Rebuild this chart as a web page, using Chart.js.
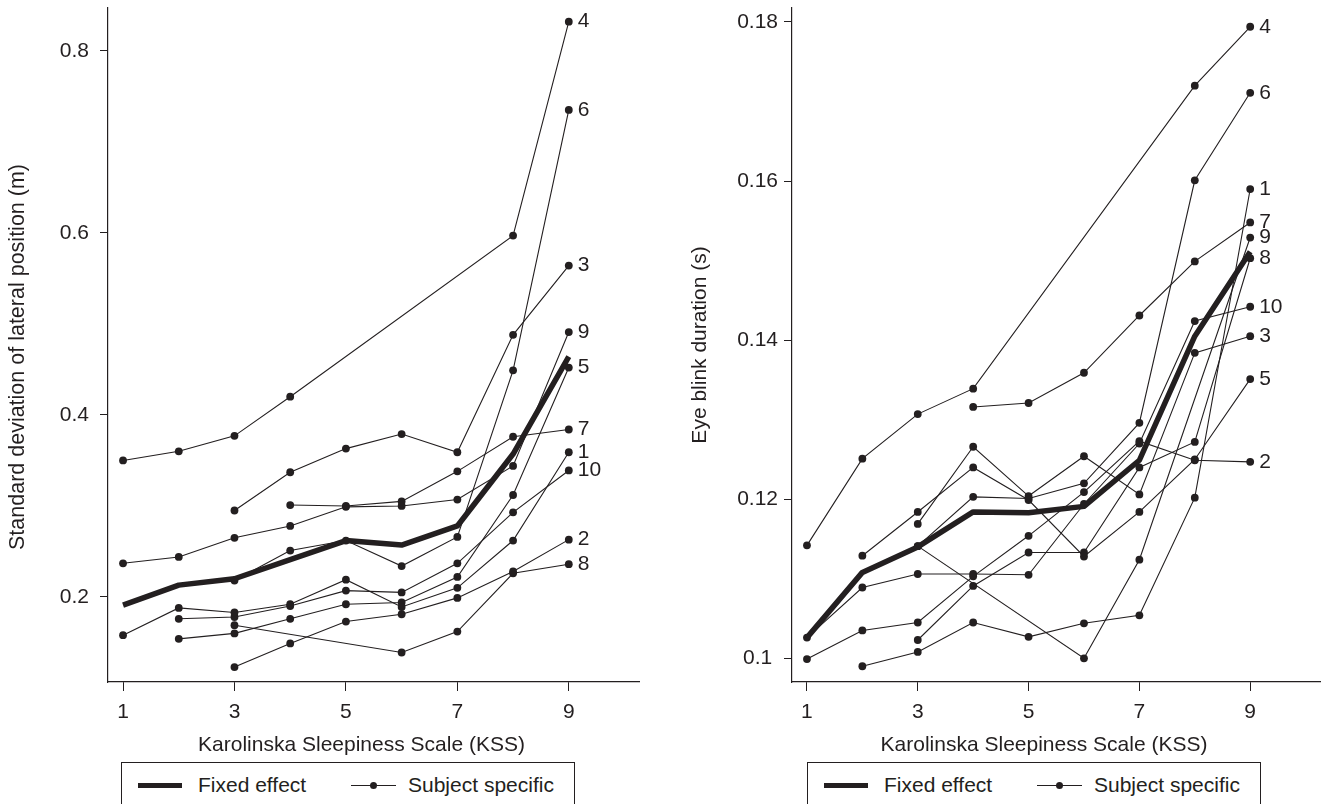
<!DOCTYPE html>
<html lang="en">
<head>
<meta charset="UTF-8">
<title>SDLP and eye blink duration by KSS</title>
<script src="https://cdn.jsdelivr.net/npm/chart.js@4.4.1/dist/chart.umd.min.js"></script>
<style>
  html, body { margin: 0; padding: 0; background: #fff; overflow: hidden; }
  body { width: 1324px; height: 804px; position: relative; font-family: "Liberation Sans", Arial, sans-serif; color: #231f20; }
  .panel { position: absolute; top: 0; width: 662px; height: 762px; }
  .legend { position: absolute; top: 762px; width: 454px; height: 60px; border: 1px solid #231f20; box-sizing: border-box; font-size: 21px; }
  .legend span { position: absolute; top: 10px; line-height: 24px; white-space: nowrap; }
  .legend .thick { position: absolute; top: 20px; left: 16px; width: 44px; height: 5px; background: #231f20; }
  .legend .thin { position: absolute; top: 22px; left: 229px; width: 45px; height: 1px; background: #231f20; }
  .legend .dot { position: absolute; top: 19px; left: 248px; width: 7px; height: 7px; border-radius: 50%; background: #231f20; }
</style>
</head>
<body>
  <div class="panel" style="left:0"><canvas id="sdlpChart" width="662" height="762"></canvas></div>
  <div class="panel" style="left:662px"><canvas id="blinkChart" width="662" height="762"></canvas></div>

  <div class="legend" style="left:121px">
    <div class="thick"></div><span style="left:76px">Fixed effect</span>
    <div class="thin"></div><div class="dot"></div><span style="left:286px">Subject specific</span>
  </div>
  <div class="legend" style="left:807px">
    <div class="thick"></div><span style="left:76px">Fixed effect</span>
    <div class="thin"></div><div class="dot"></div><span style="left:286px">Subject specific</span>
  </div>

<script>
const ink = '#231f20';
const fontFamily = '"Liberation Sans", Arial, sans-serif';

// x categories (KSS level) and tick labels
const kss = [1, 2, 3, 4, 5, 6, 7, 8, 9];
const kssTicks = [1, 3, 5, 7, 9];
const sdlpTicks = [0.2, 0.4, 0.6, 0.8];
const blinkTicks = [0.1, 0.12, 0.14, 0.16, 0.18];

// left panel: standard deviation of lateral position (m), null = no observation
const sdlpFixed = [0.191, 0.213, 0.220, 0.241, 0.262, 0.257, 0.278, 0.357, 0.464];
const sdlp1  = [0.158, 0.188, 0.183, 0.192, 0.219, 0.189, 0.210, 0.262, 0.359];
const sdlp2  = [null, null, 0.123, 0.149, 0.173, 0.181, 0.199, 0.228, 0.263];
const sdlp3  = [null, null, 0.295, 0.337, 0.363, 0.379, 0.359, 0.488, 0.564];
const sdlp4  = [0.350, 0.360, 0.377, 0.420, null, null, null, 0.597, 0.832];
const sdlp5  = [null, 0.154, 0.160, 0.176, 0.192, 0.194, 0.222, 0.312, 0.452];
const sdlp6  = [null, null, 0.218, 0.251, 0.262, 0.234, 0.266, 0.449, 0.735];
const sdlp7  = [null, null, null, 0.301, 0.300, 0.305, 0.338, 0.376, 0.384];
const sdlp8  = [null, null, 0.169, null, null, 0.139, 0.162, 0.226, 0.236];
const sdlp9  = [0.237, 0.244, 0.265, 0.278, 0.299, 0.300, 0.307, 0.344, 0.491];
const sdlp10 = [null, 0.176, 0.178, 0.190, 0.207, 0.205, 0.237, 0.293, 0.339];

// right panel: eye blink duration (s)
const blinkFixed = [0.1026, 0.1108, 0.1140, 0.1184, 0.1183, 0.1191, 0.1249, 0.1405, 0.1511];
const blink1  = [null, 0.0990, 0.1008, 0.1045, 0.1027, 0.1044, 0.1054, 0.1202, 0.1590];
const blink2  = [0.0999, 0.1035, 0.1045, 0.1103, 0.1154, 0.1209, 0.1273, 0.1249, 0.1247];
const blink3  = [null, null, 0.1169, 0.1266, 0.1204, 0.1254, 0.1206, 0.1384, 0.1405];
const blink4  = [0.1142, 0.1251, 0.1307, 0.1339, null, null, null, 0.1720, 0.1794];
const blink5  = [null, 0.1129, 0.1184, 0.1240, 0.1199, 0.1128, 0.1184, 0.1250, 0.1351];
const blink6  = [null, null, 0.1141, 0.1203, 0.1201, 0.1220, 0.1296, 0.1601, 0.1711];
const blink7  = [null, null, null, 0.1316, 0.1321, 0.1359, 0.1431, 0.1499, 0.1548];
const blink8  = [null, null, 0.1023, 0.1091, 0.1133, 0.1133, 0.1240, 0.1272, 0.1503];
const blink9  = [null, null, 0.1141, null, null, 0.1000, 0.1124, null, 0.1529];
const blink10 = [0.1026, 0.1089, 0.1106, 0.1106, 0.1105, 0.1194, 0.1270, 0.1424, 0.1442];

const sdlpSubjects = [sdlp1, sdlp2, sdlp3, sdlp4, sdlp5, sdlp6, sdlp7, sdlp8, sdlp9, sdlp10];
const blinkSubjects = [blink1, blink2, blink3, blink4, blink5, blink6, blink7, blink8, blink9, blink10];

Chart.defaults.font.family = fontFamily;
Chart.defaults.color = ink;

function points(values) {
  return kss.map((k, i) => values[i] == null ? null : { x: k, y: values[i] }).filter(p => p);
}

// subject number next to the last point of each thin line
const tagPlugin = {
  id: 'subjectTags',
  afterDatasetsDraw(chart) {
    const ctx = chart.ctx;
    ctx.save();
    ctx.fillStyle = ink;
    ctx.font = '21px ' + fontFamily;
    ctx.textBaseline = 'middle';
    ctx.textAlign = 'left';
    chart.data.datasets.forEach((ds, i) => {
      if (!ds.tag) return;
      const els = chart.getDatasetMeta(i).data;
      const last = els[els.length - 1];
      ctx.fillText(ds.tag, last.x + 9, last.y);
    });
    ctx.restore();
  }
};

// axis titles, placed like the Stata original (a bit off the plot centre)
const titlePlugin = {
  id: 'axisTitles',
  afterDraw(chart, args, opts) {
    const { ctx, chartArea: ca } = chart;
    ctx.save();
    ctx.fillStyle = ink;
    ctx.textAlign = 'center';
    ctx.textBaseline = 'middle';
    ctx.font = '21px ' + fontFamily;
    ctx.fillText(opts.x, (ca.left + ca.right) / 2 + opts.xShift, 745);
    ctx.font = opts.ySize + 'px ' + fontFamily;
    ctx.translate(opts.yPos, (ca.top + ca.bottom) / 2 + opts.yShift);
    ctx.rotate(-Math.PI / 2);
    ctx.fillText(opts.y, 0, 0);
    ctx.restore();
  }
};

function drawPanel(id, fixed, subjects, cfg) {
  const datasets = [{
    label: 'Fixed effect',
    data: points(fixed),
    borderColor: ink,
    borderWidth: 5.5,
    borderJoinStyle: 'round',
    pointRadius: 0
  }];
  subjects.forEach((values, i) => {
    datasets.push({
      label: 'Subject ' + (i + 1),
      tag: String(i + 1),
      data: points(values),
      borderColor: ink,
      borderWidth: 1.1,
      pointRadius: 3.9,
      pointBackgroundColor: ink,
      pointBorderWidth: 0
    });
  });

  new Chart(document.getElementById(id), {
    type: 'line',
    data: { datasets },
    options: {
      responsive: false,
      animation: false,
      devicePixelRatio: 1,
      layout: { padding: { left: 0, top: 8, right: cfg.padRight, bottom: 0 } },
      plugins: {
        legend: { display: false },
        tooltip: { enabled: false },
        axisTitles: {
          x: 'Karolinska Sleepiness Scale (KSS)', xShift: -12,
          y: cfg.title, yPos: cfg.titleX, yShift: cfg.titleShift, ySize: cfg.titleSize
        }
      },
      scales: {
        x: {
          type: 'linear',
          min: 0.73,
          max: 10.26,
          afterBuildTicks: s => { s.ticks = kssTicks.map(v => ({ value: v })); },
          afterFit: s => { s.height = 80; s.paddingLeft = 0; s.paddingRight = 0; },
          grid: { display: true, drawOnChartArea: false, drawTicks: true, tickLength: 9, color: ink },
          border: { display: true, color: ink, width: 1.2 },
          ticks: { font: { size: 21 }, padding: 9, maxRotation: 0, autoSkip: false }
        },
        y: {
          type: 'linear',
          min: cfg.yMin,
          max: cfg.yMax,
          afterBuildTicks: s => { s.ticks = cfg.ticks.map(v => ({ value: v })); },
          afterFit: s => { s.width = cfg.axisLeft; s.paddingTop = 0; s.paddingBottom = 0; },
          grid: { display: true, drawOnChartArea: false, drawTicks: true, tickLength: 8, color: ink },
          border: { display: true, color: ink, width: 1.2 },
          ticks: { font: { size: 21 }, padding: cfg.tickPad, crossAlign: 'center', callback: v => String(v) }
        }
      }
    },
    plugins: [tagPlugin, titlePlugin]
  });
}

drawPanel('sdlpChart', sdlpFixed, sdlpSubjects, {
  title: 'Standard deviation of lateral position (m)',
  ticks: sdlpTicks, yMin: 0.1066, yMax: 0.847,
  axisLeft: 108, padRight: 23, tickPad: 11,
  titleX: 18, titleShift: 12, titleSize: 21.5
});

drawPanel('blinkChart', blinkFixed, blinkSubjects, {
  title: 'Eye blink duration (s)',
  ticks: blinkTicks, yMin: 0.09702, yMax: 0.18176,
  axisLeft: 130, padRight: 2, tickPad: 6,
  titleX: 38, titleShift: 0, titleSize: 21
});
</script>
</body>
</html>
